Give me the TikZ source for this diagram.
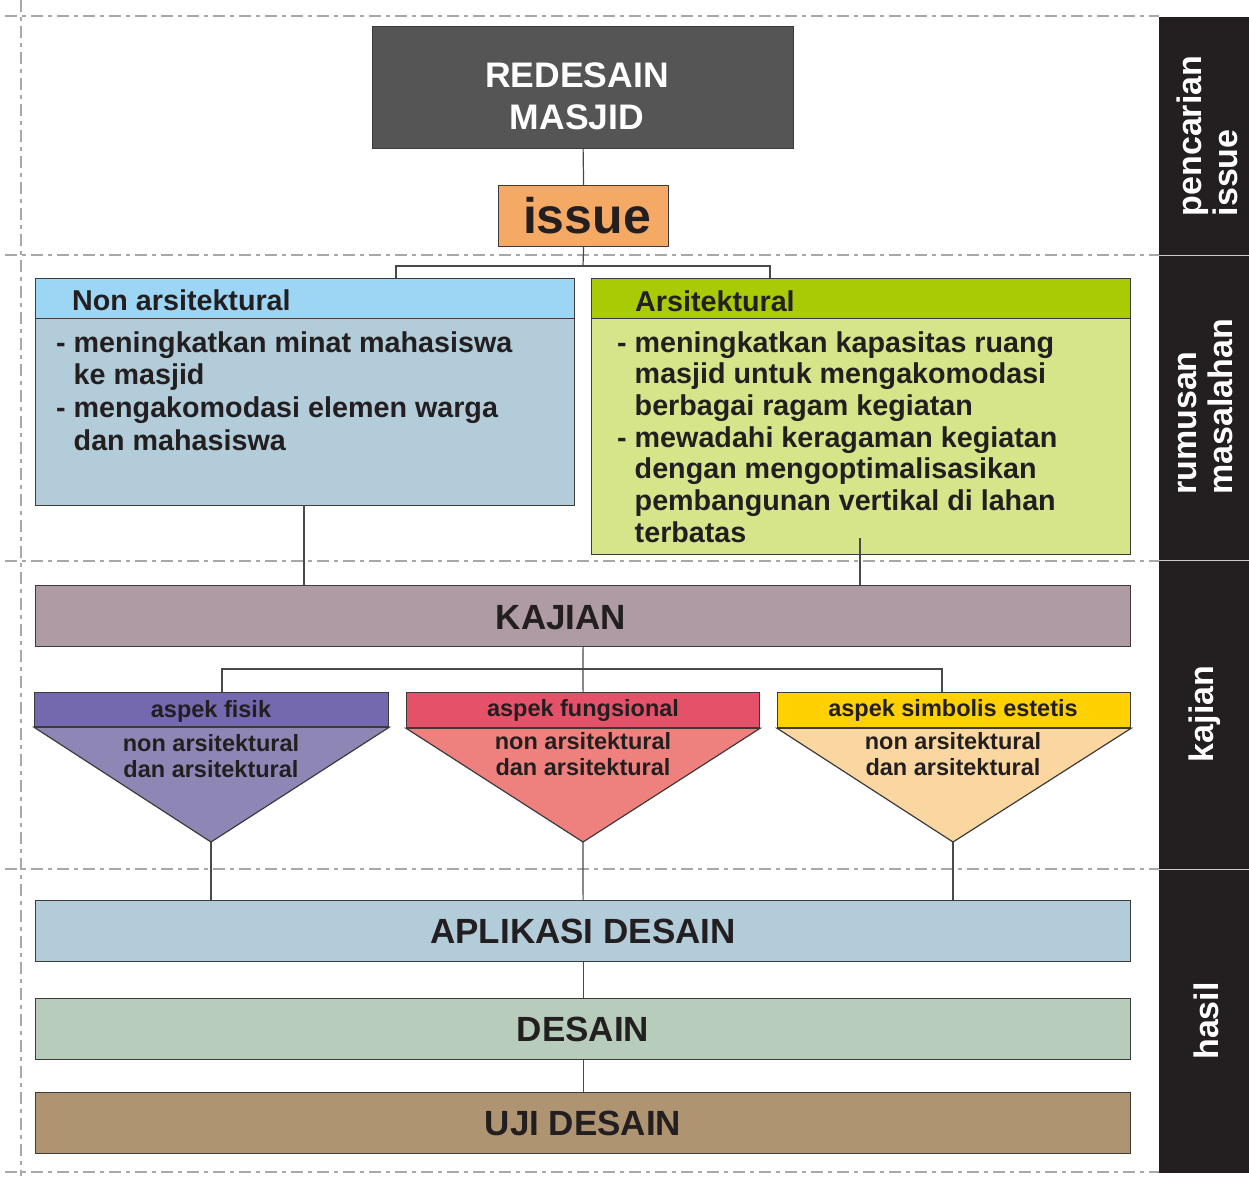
\documentclass[tikz,border=0pt]{standalone}
\usepackage{fontspec}
\setmainfont{Liberation Sans}
\definecolor{ink}{HTML}{231F20}
\definecolor{band}{HTML}{231F20}
\definecolor{edge}{HTML}{3C3B3C}
\definecolor{wire}{HTML}{4A4849}
\definecolor{guidegray}{HTML}{A8A8A8}
\definecolor{topfill}{HTML}{565556}
\definecolor{issuefill}{HTML}{F4A964}
\definecolor{nonhead}{HTML}{9DD6F5}
\definecolor{nonbody}{HTML}{B3CCDA}
\definecolor{arshead}{HTML}{A9CB05}
\definecolor{arsbody}{HTML}{D6E58A}
\definecolor{kajianfill}{HTML}{AF9BA3}
\definecolor{fisikhead}{HTML}{7468AE}
\definecolor{fisiktri}{HTML}{8E87B5}
\definecolor{funghead}{HTML}{E6516A}
\definecolor{fungtri}{HTML}{EE817E}
\definecolor{simbhead}{HTML}{FFD100}
\definecolor{simbtri}{HTML}{FAD7A0}
\definecolor{aplfill}{HTML}{B3CCDA}
\definecolor{desfill}{HTML}{B8CCBC}
\definecolor{ujifill}{HTML}{AF9471}
% font of a given pixel size and line distance
\newcommand\pxfont[2]{\fontsize{#1}{#2}\selectfont\bfseries}
% stacked lines whose first baseline is the box baseline
\newcommand\leftlines[1]{\vtop{\halign{##\hfil\cr#1\crcr}}}
\newcommand\midlines[1]{\vtop{\halign{\hfil##\hfil\cr#1\crcr}}}
\newcommand\hang{\phantom{- }}
\begin{document}
\begin{tikzpicture}[x=1pt,y=-1pt,
  box/.style={draw=edge, line width=1.2pt, inner sep=0pt, anchor=north west},
  link/.style={draw=wire, line width=1.2pt},
  guide/.style={draw=guidegray, line width=1.5pt, dash pattern=on 12pt off 5pt on 4pt off 5pt},
  txt/.style={text=ink, inner sep=0pt},
  sidelabel/.style={text=white, inner sep=0pt, rotate=90, align=left, font=\pxfont{34}{36}}]
\useasboundingbox (0,0) rectangle (1249,1176);
\fill[white] (0,0) rectangle (1249,1176);

% section guides
\draw[guide] (21,0) -- (21,1176);
\foreach \yy in {16,255,561,869,1172}
  \draw[guide] (5,\yy) -- (1159,\yy);

% side band with stage names
\fill[band] (1159,17) rectangle (1249,1173);
\foreach \yy in {255.5,560.5,869.5}
  \draw[white!80!black, line width=1.2pt] (1159,\yy) -- (1249,\yy);
\node[sidelabel] (lblIssue) at (1207,136) {pencarian\\issue};
\node[sidelabel] (lblRumusan) at (1205,407) {rumusan\\masalahan};
\node[sidelabel] (lblKajian) at (1205,714) {kajian};
\node[sidelabel] (lblHasil) at (1206,1021) {hasil};

% title and issue
\node[box, fill=topfill, minimum width=421pt, minimum height=122pt] (redesain) at (372,26) {};
\node[txt, text=white, anchor=base, font=\pxfont{35.5}{42}] (redesainText) at (577,87) {\midlines{REDESAIN\cr MASJID}};
\node[box, fill=issuefill, minimum width=170pt, minimum height=61pt] (issue) at (498,185) {};
\node[txt, anchor=base, font=\pxfont{50}{50}] (issueText) at (587,233) {issue};

% problem statements
\node[box, fill=nonbody, minimum width=539pt, minimum height=227pt] (nonBody) at (35,278) {};
\node[box, fill=nonhead, minimum width=539pt, minimum height=40pt] (nonHead) at (35,278) {};
\node[txt, anchor=base west, font=\pxfont{28.7}{32.7}] (nonHeadText) at (72,310) {Non arsitektural};
\node[txt, anchor=base west, font=\pxfont{28.7}{32.7}] (nonBodyText) at (56,352) {\leftlines{- meningkatkan minat mahasiswa\cr
  \hang ke masjid\cr
  - mengakomodasi elemen warga\cr
  \hang dan mahasiswa}};

\node[box, fill=arsbody, minimum width=539pt, minimum height=276pt] (arsBody) at (591,278) {};
\node[box, fill=arshead, minimum width=539pt, minimum height=40pt] (arsHead) at (591,278) {};
\node[txt, anchor=base west, font=\pxfont{28.7}{31.7}] (arsHeadText) at (635,311) {Arsitektural};
\node[txt, anchor=base west, font=\pxfont{28.7}{31.7}] (arsBodyText) at (617,352) {\leftlines{- meningkatkan kapasitas ruang\cr
  \hang masjid untuk mengakomodasi\cr
  \hang berbagai ragam kegiatan\cr
  - mewadahi keragaman kegiatan\cr
  \hang dengan mengoptimalisasikan\cr
  \hang pembangunan vertikal di lahan\cr
  \hang terbatas}};

% study
\node[box, fill=kajianfill, minimum width=1095pt, minimum height=61pt] (kajian) at (35,585) {};
\node[txt, anchor=base, font=\pxfont{35}{35}] (kajianText) at (561,629) {KAJIAN};

% three aspects
\node[box, fill=fisikhead, minimum width=354pt, minimum height=34pt] (fisik) at (34,692) {};
\node[box, fill=funghead, minimum width=353pt, minimum height=35pt] (fung) at (406,692) {};
\node[box, fill=simbhead, minimum width=353pt, minimum height=35pt] (simb) at (777,692) {};
\coordinate (fisikTip) at (211,842);
\coordinate (fungTip) at (583,842);
\coordinate (simbTip) at (953,842);
\filldraw[draw=edge, line width=1.2pt, fill=fisiktri] (fisik.south west) -- (fisik.south east) -- (fisikTip) -- cycle;
\filldraw[draw=edge, line width=1.2pt, fill=fungtri] (fung.south west) -- (fung.south east) -- (fungTip) -- cycle;
\filldraw[draw=edge, line width=1.2pt, fill=simbtri] (simb.south west) -- (simb.south east) -- (simbTip) -- cycle;
\node[txt, anchor=base, font=\pxfont{23.5}{26}] (fisikText) at (211,717) {aspek fisik};
\node[txt, anchor=base, font=\pxfont{23.5}{26}] (fungText) at (583,716) {aspek fungsional};
\node[txt, anchor=base, font=\pxfont{23.5}{26}] (simbText) at (953,716) {aspek simbolis estetis};
\node[txt, anchor=base, font=\pxfont{23.5}{26}] (fisikSub) at (211,751) {\midlines{non arsitektural\cr dan arsitektural}};
\node[txt, anchor=base, font=\pxfont{23.5}{26}] (fungSub) at (583,749) {\midlines{non arsitektural\cr dan arsitektural}};
\node[txt, anchor=base, font=\pxfont{23.5}{26}] (simbSub) at (953,749) {\midlines{non arsitektural\cr dan arsitektural}};

% results
\node[box, fill=aplfill, minimum width=1095pt, minimum height=61pt] (aplikasi) at (35,900) {};
\node[txt, anchor=base, font=\pxfont{35}{35}] (aplikasiText) at (583,943) {APLIKASI DESAIN};
\node[box, fill=desfill, minimum width=1095pt, minimum height=61pt] (desain) at (35,998) {};
\node[txt, anchor=base, font=\pxfont{35}{35}] (desainText) at (583,1041) {DESAIN};
\node[box, fill=ujifill, minimum width=1095pt, minimum height=61pt] (uji) at (35,1092) {};
\node[txt, anchor=base, font=\pxfont{35}{35}] (ujiText) at (583,1135) {UJI DESAIN};

% connectors
\coordinate (issueFork) at (583,266);
\coordinate (nonIn) at (396,278);
\coordinate (arsIn) at (770,278);
\coordinate (nonOut) at (304,505);
\coordinate (arsOut) at (860,538);
\coordinate (kajNon) at (304,585);
\coordinate (kajArs) at (860,585);
\coordinate (kajFork) at (583,669);
\coordinate (fisikIn) at (222,692);
\coordinate (simbIn) at (942,692);
\coordinate (aplFisik) at (211,900);
\coordinate (aplSimb) at (953,900);

\draw[link] (redesain.south) -- (issue.north);
\draw[link] (issue.south) -- (issueFork);
\draw[link] (nonIn) |- (issueFork) -| (arsIn);
\draw[link] (nonOut) -- (kajNon);
\draw[link] (arsOut) -- (kajArs);
\draw[link] (kajian.south) -- (kajFork);
\draw[link] (fisikIn) |- (kajFork) -| (simbIn);
\draw[link] (kajFork) -- (fung.north);
\draw[link] (fisikTip) -- (aplFisik);
\draw[link] (fungTip) -- (aplikasi.north);
\draw[link] (simbTip) -- (aplSimb);
\draw[link] (aplikasi.south) -- (desain.north);
\draw[link] (desain.south) -- (uji.north);
\end{tikzpicture}
\end{document}
